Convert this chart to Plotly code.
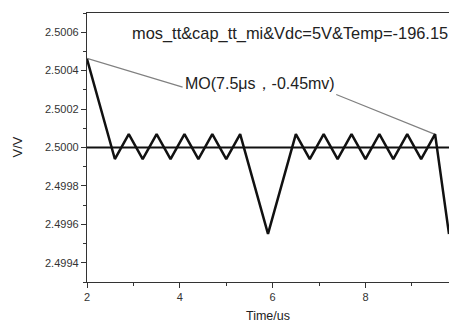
import plotly.graph_objects as go

# Data
time_us = [2.0, 2.6, 2.9, 3.2, 3.5, 3.8, 4.1, 4.4, 4.7, 5.0, 5.3, 5.9, 6.5, 6.8, 7.1, 7.4, 7.7, 8.0, 8.3, 8.6, 8.9, 9.2, 9.5, 9.8]
volt = [2.50046, 2.49994, 2.50007, 2.49994, 2.50007, 2.49994, 2.50007, 2.49994, 2.50007, 2.49994, 2.50007,
        2.49955, 2.50007, 2.49994, 2.50007, 2.49994, 2.50007, 2.49994, 2.50007, 2.49994, 2.50007, 2.49994, 2.50007, 2.49955]
ref_x = [2.0, 9.8]
ref_y = [2.5, 2.5]
leader1_x = [2.0, 4.06]
leader1_y = [2.500464, 2.500314]
leader2_x = [7.37, 9.5]
leader2_y = [2.500276, 2.500068]
x_ticks = [2, 4, 6, 8]
y_ticks = [2.4994, 2.4996, 2.4998, 2.5000, 2.5002, 2.5004, 2.5006]
y_tick_labels = ["2.4994", "2.4996", "2.4998", "2.5000", "2.5002", "2.5004", "2.5006"]
title_text = "mos_tt&cap_tt_mi&Vdc=5V&Temp=-196.15"
marker_text = "MO(7.5μs，-0.45mv)"

FONT = "Arial, 'Liberation Sans', sans-serif"

fig = go.Figure()
fig.add_trace(go.Scatter(x=ref_x, y=ref_y, mode="lines", line=dict(color="#111", width=2), hoverinfo="skip"))
fig.add_trace(go.Scatter(x=leader1_x, y=leader1_y, mode="lines", line=dict(color="#808080", width=1.2), hoverinfo="skip"))
fig.add_trace(go.Scatter(x=leader2_x, y=leader2_y, mode="lines", line=dict(color="#808080", width=1.2), hoverinfo="skip"))
fig.add_trace(go.Scatter(x=time_us, y=volt, mode="lines", line=dict(color="#111", width=2.5), cliponaxis=True))

axis_common = dict(
    showgrid=False, zeroline=False, showline=True, linecolor="#333", linewidth=1.3,
    ticks="outside", ticklen=5, tickwidth=1, tickcolor="#333",
    tickfont=dict(family=FONT, size=11, color="#333"),
)
fig.update_xaxes(range=[2, 9.8], tickvals=x_ticks, mirror=True,
                 minor=dict(dtick=1, ticks="outside", ticklen=3, tickcolor="#333", showgrid=False),
                 **axis_common)
fig.update_yaxes(range=[2.4993, 2.5007], tickvals=y_ticks, ticktext=y_tick_labels,
                 minor=dict(dtick=0.0001, tick0=2.4993, ticks="outside", ticklen=3, tickcolor="#333", showgrid=False),
                 **axis_common)

fig.add_annotation(text=title_text, xref="paper", yref="paper", x=(130 - 87) / 362, y=(282 - 33) / 269,
                   xanchor="left", yanchor="middle", showarrow=False,
                   font=dict(family=FONT, size=16.4, color="#222"))
fig.add_annotation(text=marker_text, xref="x", yref="y", x=5.72, y=2.500333,
                   xanchor="center", yanchor="middle", showarrow=False,
                   font=dict(family=FONT, size=16, color="#222"))
fig.add_annotation(text="V/V", xref="paper", yref="paper", x=(17 - 87) / 362, y=0.5,
                   textangle=-90, xanchor="center", yanchor="middle", showarrow=False,
                   font=dict(family=FONT, size=13, color="#222"))
fig.add_annotation(text="Time/us", xref="paper", yref="paper", x=(268 - 87) / 362, y=(282 - 316) / 269,
                   xanchor="center", yanchor="middle", showarrow=False,
                   font=dict(family=FONT, size=12.5, color="#222"))

fig.update_layout(
    width=449, height=322, margin=dict(l=87, r=0, t=13, b=40),
    paper_bgcolor="white", plot_bgcolor="white", showlegend=False,
)

fig.write_html("out.html")
